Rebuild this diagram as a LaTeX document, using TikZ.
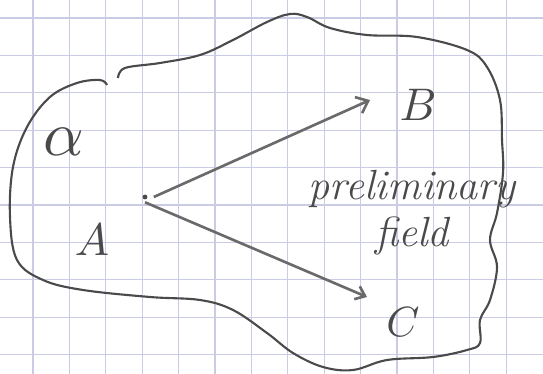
\documentclass[tikz,border=0pt]{standalone}
\usepackage{amsmath,amssymb}
\usepackage{graphicx}
\usepackage{tikz}
\usetikzlibrary{arrows.meta,positioning}
\definecolor{Grid}{HTML}{CACCE6}
\definecolor{Ink}{HTML}{4A4A4A}
\definecolor{Pen}{HTML}{6A6A6A}

\begin{document}
\begin{tikzpicture}[x=0.02cm,y=-0.02cm]
      \useasboundingbox (0,0) rectangle (543,374);
      \fill[white] (0,0) rectangle (543,374);
      \foreach \i in {0,...,13} \draw[Grid,line width=0.6pt] (33+36.4*\i,0)--(33+36.4*\i,374);
      \foreach \j in {0,...,9} \draw[Grid,line width=0.6pt] (0,18+37.4*\j)--(543,18+37.4*\j);
      \draw[Ink,line width=1.2pt] plot[smooth,tension=0.6] coordinates {(118,78) (125,68) (160,63) (200,55) (233,40) (267,22) (290,14) (307,17) (330,28) (367,35) (417,37) (467,50) (487,67) (500,100) (502,140) (503,173) (497,213) (490,240) (497,267) (490,300) (480,320) (480,343) (467,350) (433,357) (387,360) (353,370) (323,367) (293,353) (267,333) (233,310) (200,300) (150,297) (83,290) (43,280) (17,260) (10,217) (13,167) (27,127) (50,97) (77,83) (100,80) (107,85)};
      \fill[Ink] (145,197) circle (2.4);
      \coordinate (a) at (145,197);
      \coordinate (tipB) at (370,100);
      \coordinate (tipC) at (367,297);
      \draw[Pen,line width=1.5pt,-{Straight Barb[length=6pt,width=10pt]}] ([xshift=5pt]a)--(tipB);
      \draw[Pen,line width=1.5pt,-{Straight Barb[length=5pt,width=8pt]}] ([yshift=-3pt]a)--(tipC);
      \node[Ink] (B) at (418,105) {\scalebox{2.6}{$B$}};
      \node[Ink] (C) at (403,322) {\scalebox{2.4}{$C$}};
      \node[Ink] (alpha) at (64,142) {\scalebox{3.6}{$\alpha$}};
      \node[Ink] (A) at (92,240) {\scalebox{2.6}{$A$}};
      \node[Ink,font=\fontsize{24}{28}\selectfont\itshape] (pre) at (412,189) {preliminary};
      \node[Ink,font=\fontsize{24}{28}\selectfont\itshape,below=-2pt of pre] (field) {field};
\end{tikzpicture}
\end{document}
